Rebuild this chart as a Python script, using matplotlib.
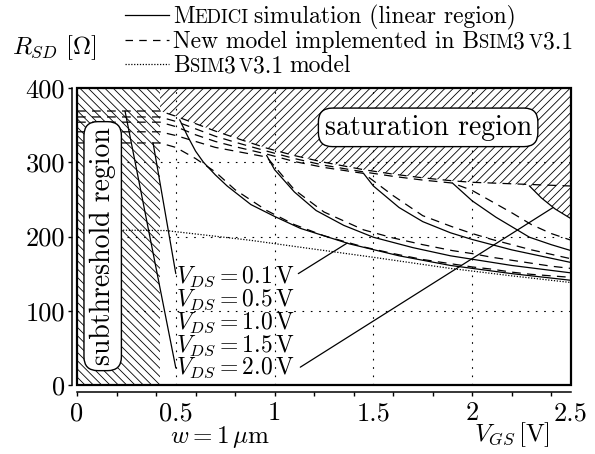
import numpy as np
import matplotlib
matplotlib.use('Agg')
import matplotlib.pyplot as plt
from matplotlib.offsetbox import TextArea, HPacker, DrawingArea, AnchoredOffsetbox
from matplotlib.lines import Line2D
from matplotlib.patches import Rectangle
from matplotlib.ticker import MultipleLocator

plt.rcParams['font.family'] = ['cmr10', 'DejaVu Serif']
plt.rcParams['mathtext.fontset'] = 'cm'
plt.rcParams['axes.formatter.use_mathtext'] = True
plt.rcParams['hatch.linewidth'] = 0.6

# VGS grid for the model curves (new model, dashed)
vgs = np.array([0, 0.42, 0.5, 0.6, 0.7, 0.8, 0.96, 1.1, 1.25, 1.45, 1.6,
                1.75, 1.9, 2.0, 2.1, 2.2, 2.3, 2.4, 2.5])
new_01 = [326, 326, 320, 305, 287, 263, 235, 216, 201, 186, 177, 169, 163, 159, 156, 152, 149, 147, 145]
new_05 = [341, 341, 336, 328, 320, 315, 307, 263, 233, 209, 198, 189, 181, 177, 172, 168, 164, 160, 157]
new_10 = [354, 354, 348, 337, 328, 321, 311, 301, 293, 285, 255, 228, 213, 204, 196, 189, 182, 176, 170]
new_15 = [361, 361, 355, 345, 335, 327, 315, 305, 296, 287, 281, 276, 272, 262, 247, 232, 216, 204, 195]
new_20 = [369, 369, 362, 352, 342, 333, 319, 309, 300, 290, 284, 279, 275, 273, 272, 271, 270, 269, 268]

# Medici simulation, linear region only (solid)
med_01_x = [0.52, 0.56, 0.6, 0.64, 0.7, 0.76, 0.88, 1.0, 1.13, 1.38, 1.63, 1.89, 2.2, 2.5]
med_01_y = [357, 335, 315, 300, 283, 268, 243, 227, 211, 190, 174, 161, 150, 141]
med_05_x = [0.96, 1.0, 1.1, 1.21, 1.35, 1.5, 1.7, 1.89, 2.2, 2.5]
med_05_y = [309, 290, 260, 235, 215, 199, 185, 174, 161, 151]
med_10_x = [1.45, 1.5, 1.63, 1.75, 1.89, 2.0, 2.2, 2.5]
med_10_y = [285, 268, 239, 220, 205, 196, 182, 165]
med_15_x = [1.9, 2.0, 2.12, 2.29, 2.4, 2.5]
med_15_y = [272, 248, 226, 199, 189, 181]
med_20_x = [2.29, 2.35, 2.42, 2.5]
med_20_y = [268, 252, 237, 224]

# Bsim3 v3.1 model (dotted)
bsim_x = [0, 0.45, 0.875, 1.2, 1.5, 1.89, 2.2, 2.5]
bsim_y = [209, 208, 195, 183, 172, 157, 147, 138]

vds_labels = ['0.1', '0.5', '1.0', '1.5', '2.0']
label_y = [138, 107, 76, 45, 15]
label_x = 0.5
vth_edge = 0.42

fig = plt.figure(figsize=(5.95, 4.54), dpi=100)
ax = fig.add_axes([77/595, 1-385/454, (571-77)/595, (385-88)/454])
ax.set_xlim(0, 2.5)
ax.set_ylim(0, 400)

# hatched regions
ax.fill_between([0, vth_edge], 0, 400, hatch='\\\\\\\\', facecolor='none',
                edgecolor='k', linewidth=0, zorder=1)
mask = (vgs >= vth_edge) & (vgs < med_20_x[0])
bx = np.concatenate([vgs[mask], med_20_x])
by = np.concatenate([np.array(new_20)[mask], med_20_y])
ax.fill_between(bx, by, 400, hatch='////', facecolor='none',
                edgecolor='k', linewidth=0, zorder=1)

ax.grid(True, which='major', color='k', linestyle=(0, (1.5, 6)), linewidth=0.8)

for d in [new_01, new_05, new_10, new_15, new_20]:
    ax.plot(vgs, d, color='k', lw=0.9, ls=(0, (7, 5)), zorder=3)
for mx, my in [(med_01_x, med_01_y), (med_05_x, med_05_y), (med_10_x, med_10_y),
               (med_15_x, med_15_y), (med_20_x, med_20_y)]:
    ax.plot(mx, my, color='k', lw=0.9, zorder=3)
ax.plot(bsim_x, bsim_y, color='k', lw=0.9, ls=(0, (1, 1.3)), zorder=3)

# region boxes
ax.text(0.13, 187, 'subthreshold region', rotation=90, ha='center', va='center',
        fontsize=20, zorder=5,
        bbox=dict(boxstyle='round,pad=0.2,rounding_size=0.5', fc='white', ec='k', lw=1))
ax.text(1.777, 347, 'saturation region', ha='center', va='center', fontsize=20, zorder=5,
        bbox=dict(boxstyle='round,pad=0.22,rounding_size=0.5', fc='white', ec='k', lw=1))

for lab, ly in zip(vds_labels, label_y):
    ax.text(label_x, ly, r'$V_{DS}=%s\,\mathrm{V}$' % lab, fontsize=17,
            ha='left', va='baseline', zorder=5)

# leader lines from labels to curves
leaders = [
    ((label_x, label_y[0] + 12), (0.385, np.interp(0.385, vgs, new_01))),
    ((label_x, label_y[4] + 8), (0.243, np.interp(0.243, vgs, new_20))),
    ((1.12, label_y[0] + 12), (1.367, np.interp(1.367, med_01_x, med_01_y))),
    ((1.13, label_y[4] + 9), (2.41, np.interp(2.41, med_20_x, med_20_y))),
]
for start, end in leaders:
    ax.annotate('', xy=end, xytext=start,
                arrowprops=dict(arrowstyle='-', lw=0.9, shrinkA=0, shrinkB=0), zorder=4)

# axes styling
ax.spines['top'].set_visible(False)
ax.spines['right'].set_visible(False)
ax.spines['left'].set_position(('outward', 3.6))
ax.spines['bottom'].set_position(('outward', 5))
ax.spines['left'].set_linewidth(1.1)
ax.spines['bottom'].set_linewidth(1.1)
ax.add_patch(Rectangle((0, 0), 1, 1, transform=ax.transAxes, fill=False,
                       lw=1.6, ec='k', zorder=10, clip_on=False))

ax.set_xticks([0, 0.5, 1, 1.5, 2, 2.5])
ax.set_xticklabels(['0', '0.5', '1', '1.5', '2', '2.5'])
ax.xaxis.set_minor_locator(MultipleLocator(0.2))
ax.xaxis.remove_overlapping_locs = False
ax.tick_params(axis='x', which='major', length=0, pad=7, labelsize=19)
ax.tick_params(axis='x', which='minor', length=3, width=1, direction='out')
ax.set_yticks([0, 100, 200, 300, 400])
ax.set_yticklabels(['0', '100', '200', '300', '400'])
ax.tick_params(axis='y', length=3, width=1, direction='out', pad=2, labelsize=19)

fig.text(220/595, 1-443/454, r'$w=1\,\mu\mathrm{m}$', ha='center', va='baseline', fontsize=18)
fig.text(512/595, 1-441/454, r'$V_{GS}\,[\mathrm{V}]$', ha='center', va='baseline', fontsize=18)
fig.text(12/595, 1-54/454, r'$R_{SD}\ [\Omega]$', ha='left', va='baseline', fontsize=18)

# legend with small caps
big, small = 17, 13.5


def sample(ls):
    da = DrawingArea(33, 12)
    da.add_artist(Line2D([0, 32], [5.5, 5.5], color='k', lw=0.9, ls=ls))
    return da


def gap(w):
    return DrawingArea(w, 0)


def txt(s, size):
    return TextArea(s, textprops=dict(size=size, family='cmr10'))


rows = [
    [sample('-'), gap(1.5), txt('M', big), txt('EDICI', small), gap(4),
     txt('simulation (linear region)', big)],
    [sample((0, (6, 5))), gap(1.5), txt('New model implemented in B', big), txt('SIM', small),
     txt('3', big), gap(2.5), txt('V', small), txt('3.1', big)],
    [sample((0, (1, 1.3))), gap(1.5), txt('B', big), txt('SIM', small), txt('3', big), gap(2.5),
     txt('V', small), txt('3.1', big), gap(4), txt('model', big)],
]
row_y = [17, 42, 66]
for r, yy in zip(rows, row_y):
    box = HPacker(children=r, align='baseline', pad=0, sep=0)
    ab = AnchoredOffsetbox(loc='center left', child=box, pad=0, borderpad=0, frameon=False,
                           bbox_to_anchor=(125/595, 1-yy/454), bbox_transform=fig.transFigure)
    fig.add_artist(ab)

fig.savefig('out.png', dpi=100)
